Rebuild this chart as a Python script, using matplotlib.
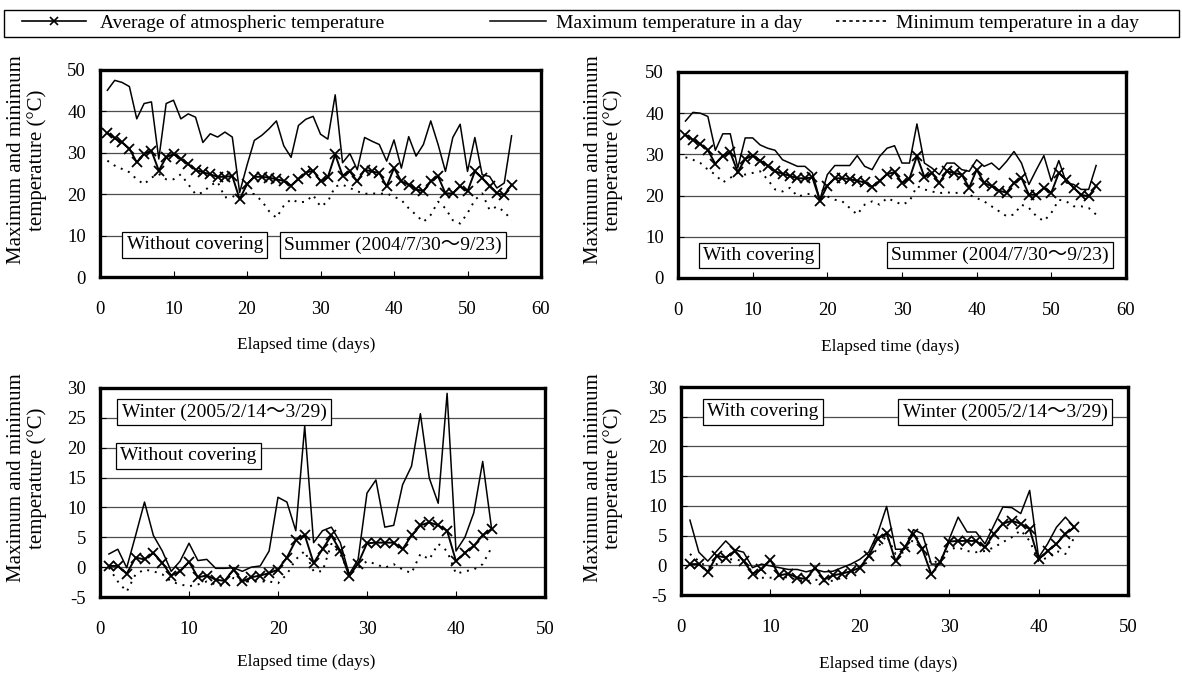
import numpy as np
import matplotlib
matplotlib.use("Agg")
import matplotlib.pyplot as plt
from matplotlib.lines import Line2D
from matplotlib.patches import Rectangle

plt.rcParams['font.family'] = ['Liberation Serif', 'Noto Sans CJK JP', 'DejaVu Serif']
plt.rcParams['font.size'] = 13
plt.rcParams['axes.unicode_minus'] = False

# ---- data ----
summer_days = np.arange(1, 57)
winter_days = np.arange(1, 45)

summer_avg = [34.8, 33.5, 32.5, 31.0, 27.7, 29.7, 30.5, 25.7, 28.9, 29.7,
              28.5, 27.3, 25.9, 25.3, 24.8, 24.2, 24.2, 24.4, 18.8, 22.4,
              24.2, 24.2, 24.0, 23.6, 23.2, 22.1, 23.6, 25.2, 25.7, 23.1,
              24.1, 29.6, 24.5, 25.5, 23.1, 25.9, 25.5, 25.1, 21.9, 26.3,
              23.1, 22.3, 21.2, 20.7, 23.1, 24.3, 20.2, 20.2, 21.9, 20.7,
              25.5, 23.9, 21.9, 20.2, 19.8, 22.3]
summer_max_open = [45.1, 47.5, 47.0, 46.0, 38.2, 41.9, 42.3, 28.5, 41.9, 42.7,
                   38.2, 39.4, 38.6, 32.5, 34.6, 33.8, 35.0, 33.8, 20.4, 27.0,
                   33.0, 34.2, 35.8, 37.7, 31.7, 28.9, 36.6, 38.1, 38.8, 34.5,
                   33.3, 44.0, 27.6, 29.8, 25.9, 33.7, 32.8, 32.0, 28.0, 33.1,
                   26.3, 33.9, 29.2, 32.0, 37.7, 32.0, 25.5, 33.7, 36.9, 25.5,
                   33.7, 24.7, 24.3, 21.5, 22.7, 34.1]
summer_min_open = [28.1, 26.9, 26.1, 25.3, 23.6, 22.4, 24.0, 24.9, 23.6, 23.6,
                   24.8, 22.4, 20.0, 20.4, 22.1, 23.0, 19.2, 19.6, 18.8, 20.4,
                   20.0, 18.4, 15.9, 14.3, 17.2, 18.8, 18.0, 18.2, 19.8, 17.0,
                   18.2, 21.9, 22.3, 21.5, 20.7, 20.1, 20.2, 20.1, 20.2, 19.4,
                   18.6, 16.6, 15.0, 13.3, 15.0, 18.2, 16.6, 13.7, 12.9, 15.4,
                   18.6, 20.2, 16.2, 17.0, 15.8, 13.7]
summer_max_cover = [38.1, 40.2, 40.0, 39.2, 31.0, 35.0, 35.0, 26.7, 34.0, 34.0,
                    32.3, 31.5, 31.0, 28.7, 27.9, 27.1, 27.1, 25.5, 19.0, 25.1,
                    27.3, 27.3, 27.3, 29.7, 27.1, 26.3, 29.5, 31.5, 32.1, 27.9,
                    27.9, 37.4, 27.9, 26.7, 25.1, 27.9, 27.9, 26.3, 25.9, 28.7,
                    27.1, 27.9, 26.3, 28.3, 30.7, 27.9, 22.7, 26.3, 29.7, 23.5,
                    28.5, 23.1, 22.7, 21.5, 21.5, 27.3]
summer_min_cover = [29.3, 28.7, 27.9, 26.3, 25.1, 23.2, 24.3, 25.5, 25.1, 25.5,
                    25.9, 23.9, 21.5, 21.0, 21.9, 19.8, 20.2, 20.6, 19.0, 19.8,
                    19.0, 18.6, 17.0, 15.4, 17.8, 18.6, 17.8, 19.4, 18.6, 17.8,
                    18.6, 22.3, 21.5, 21.0, 20.6, 20.8, 20.6, 20.8, 20.2, 19.4,
                    18.6, 17.4, 16.2, 15.0, 15.4, 17.8, 17.0, 15.0, 13.8, 15.8,
                    19.0, 18.6, 17.4, 17.4, 17.0, 15.4]

winter_avg = [0.2, 0.2, -1.1, 1.6, 1.3, 2.4, 0.7, -1.4, -0.7, 0.9,
              -1.7, -1.4, -2.1, -2.3, -0.4, -2.4, -1.7, -1.4, -1.0, -0.4,
              1.6, 4.5, 5.4, 0.7, 3.0, 5.3, 2.7, -1.5, 0.6, 4.0,
              4.1, 4.1, 4.1, 3.0, 5.3, 7.0, 7.5, 7.0, 6.1, 1.0,
              2.4, 3.6, 5.3, 6.4]
winter_max_open = [2.2, 3.0, -0.1, 5.3, 10.9, 5.3, 2.7, -0.7, 1.0, 4.0,
                   1.1, 1.3, -0.2, -0.2, -0.1, -0.7, 0.0, 0.2, 2.7, 11.7,
                   10.9, 6.1, 23.6, 4.1, 6.1, 6.7, 4.1, -1.2, 1.3, 12.4,
                   14.6, 6.7, 7.0, 13.8, 16.9, 25.7, 14.9, 10.7, 29.1, 2.7,
                   5.0, 9.1, 17.7, 6.4]
winter_min_open = [-0.1, -2.4, -4.1, -1.2, -0.4, -0.7, -1.2, -2.4, -2.9, -3.2,
                   -2.9, -2.4, -2.9, -3.2, -1.8, -2.4, -2.4, -2.4, -2.4, -2.7,
                   -1.2, 1.3, 2.7, -0.7, -0.7, 3.9, 2.2, -1.0, -0.1, 1.0,
                   0.5, -0.1, 0.5, -0.4, -1.0, 2.2, 1.3, 3.9, 2.7, -1.1,
                   -0.7, -0.4, 0.5, 3.3]
winter_max_cover = [7.6, 2.2, 0.7, 2.4, 4.1, 2.6, 2.2, -0.4, 0.2, -0.1,
                    -0.4, -0.7, -0.7, -1.1, -0.7, -1.1, -1.0, -0.4, 0.2, 1.0,
                    2.2, 5.4, 9.9, 2.7, 2.7, 6.0, 5.3, 0.2, 0.2, 4.4,
                    8.1, 5.6, 5.6, 3.6, 6.7, 9.8, 9.7, 8.7, 12.6, 1.3,
                    3.6, 6.4, 8.1, 6.4]
winter_min_cover = [1.9, 0.7, -0.4, 0.2, 1.0, 1.0, 0.7, -1.2, -2.1, -2.1,
                    -1.8, -2.1, -2.4, -2.7, -2.4, -2.7, -2.6, -2.1, -1.5, -0.4,
                    0.7, 3.0, 5.0, 1.9, 2.2, 4.4, 3.3, 0.2, 1.0, 2.7,
                    3.0, 2.4, 2.2, 2.4, 3.0, 3.9, 4.7, 5.9, 4.1, 0.7,
                    1.3, 2.4, 1.9, 4.7]

summer_label = "Summer (2004/7/30～9/23)"
winter_label = "Winter (2005/2/14～3/29)"
ylabel_lines = ["Maximum and minimum", "temperature (°C)"]
xlabel = "Elapsed time (days)"

W, H = 1182, 679
fig = plt.figure(figsize=(W / 100, H / 100), dpi=100)


def px_axes(l, t, r, b):
    return fig.add_axes([l / W, 1 - b / H, (r - l) / W, (b - t) / H])


def draw(ax, days, avg, mx, mn, xmax, ylim, yticks):
    ax.plot(days, mx, color='black', lw=1.1)
    ax.plot(days, mn, color='black', lw=1.4, linestyle=(0, (1, 3)))
    ax.plot(days, avg, color='black', lw=1.4, marker='x', ms=7, mew=1.3)
    ax.set_xlim(0, xmax)
    ax.set_ylim(*ylim)
    ax.set_yticks(yticks)
    ax.set_xticks(np.arange(0, xmax + 1, 10))
    ax.grid(axis='y', color='0.3', lw=0.9)
    ax.set_axisbelow(True)
    for s in ax.spines.values():
        s.set_linewidth(2.4)
    ax.tick_params(axis='x', direction='in', length=4, pad=17, labelsize=13.5)
    ax.tick_params(axis='y', direction='in', length=4, pad=10, labelsize=13.5)


def box(ax, x, y, s):
    ax.text(x, y, s, transform=ax.transAxes, ha='center', va='center',
            fontsize=14, zorder=5,
            bbox=dict(boxstyle='square,pad=0.22', fc='white', ec='black', lw=0.9))


ax1 = px_axes(100, 70, 541, 277)
draw(ax1, summer_days, summer_avg, summer_max_open, summer_min_open, 60, (0, 50), np.arange(0, 51, 10))
box(ax1, 0.215, 0.155, "Without covering")
box(ax1, 0.664, 0.155, summer_label)

ax2 = px_axes(678, 72, 1126, 278)
draw(ax2, summer_days, summer_avg, summer_max_cover, summer_min_cover, 60, (0, 50), np.arange(0, 51, 10))
box(ax2, 0.181, 0.11, "With covering")
box(ax2, 0.719, 0.11, summer_label)

ax3 = px_axes(100, 388, 545, 597)
draw(ax3, winter_days, winter_avg, winter_max_open, winter_min_open, 50, (-5, 30), np.arange(-5, 31, 5))
box(ax3, 0.279, 0.885, winter_label)
box(ax3, 0.198, 0.675, "Without covering")

ax4 = px_axes(681, 387, 1128, 595)
draw(ax4, winter_days, winter_avg, winter_max_cover, winter_min_cover, 50, (-5, 30), np.arange(-5, 31, 5))
box(ax4, 0.183, 0.88, "With covering")
box(ax4, 0.725, 0.88, winter_label)

# axis titles (two rotated lines each, like the original)
for (x, y) in [(17, 160), (593, 160), (17, 478), (593, 478)]:
    fig.text(x / W, 1 - y / H, ylabel_lines[0], rotation=90, ha='center', va='center', fontsize=15)
    fig.text((x + 20) / W, 1 - y / H, ylabel_lines[1], rotation=90, ha='center', va='center', fontsize=15)
for (x, y) in [(306, 345), (890, 347), (306, 662), (888, 664)]:
    fig.text(x / W, 1 - y / H, xlabel, ha='center', va='center', fontsize=12.5)

# legend strip across the top
fig.add_artist(Rectangle((4 / W, 1 - 37 / H), 1175 / W, 27 / H, transform=fig.transFigure,
                         fill=False, ec='black', lw=1.0))
entries = [
    (22, Line2D([], [], color='black', lw=1.2, marker='x', ms=6, mew=1.2),
     "Average of atmospheric temperature", 3.3, 0.7),
    (490, Line2D([], [], color='black', lw=1.1),
     "Maximum temperature in a day", 2.9, 0.5),
    (836, Line2D([], [], color='black', lw=1.2, linestyle=(0, (2, 2))),
     "Minimum temperature in a day", 2.6, 0.5),
]
for x, h, lab, hl, tp in entries:
    fig.legend(handles=[h], labels=[lab], loc='center left',
               bbox_to_anchor=(x / W, 1 - 23 / H), frameon=False, fontsize=14,
               handlelength=hl, handletextpad=tp, borderpad=0, borderaxespad=0)

fig.savefig("out.png", dpi=100)
